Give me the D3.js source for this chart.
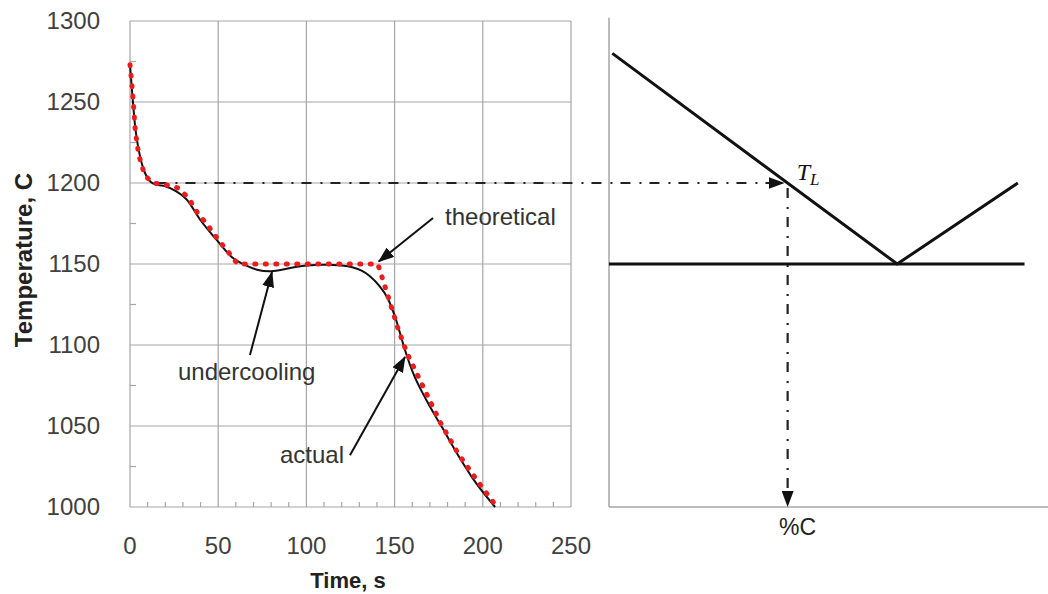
<!DOCTYPE html>
<html>
<head>
<meta charset="utf-8">
<script src="https://cdn.jsdelivr.net/npm/d3@7"></script>
<style>
  body { margin: 0; background: #fff; }
</style>
</head>
<body>
<div id="chart"></div>
<script>
var width = 1048;
var height = 594;

// tick labels
var timeTicks = [0, 50, 100, 150, 200, 250];
var tempTicks = [1000, 1050, 1100, 1150, 1200, 1250, 1300];

// actual cooling curve (black)
var actualTime = [0, 1.5, 3, 5, 7.5, 10, 12, 15, 20, 26, 32, 40, 49, 58, 66, 72, 79, 86, 93, 100, 110, 120, 126, 131, 136, 141, 146, 151, 155, 160, 168, 177, 186, 196, 207];
var actualTemp = [1273, 1252, 1234, 1220, 1209, 1203, 1200.5, 1199, 1198, 1195, 1190, 1177, 1165, 1154, 1149, 1146.5, 1145.5, 1146.5, 1148, 1149, 1149.5, 1149, 1148, 1146, 1142.5, 1137, 1129, 1115, 1100, 1084, 1066, 1049, 1032, 1015, 1000];

// theoretical cooling curve (red dots)
var theoTime = [0, 1, 2, 3, 5, 7.5, 10, 13, 20, 27, 33, 38, 44, 50, 56, 61, 80, 100, 120, 140.5, 144, 148, 152, 157, 165, 176, 186, 197, 208];
var theoTemp = [1273, 1262, 1248, 1232, 1217, 1208, 1203, 1200, 1199, 1197, 1191, 1182, 1174, 1165, 1157, 1150, 1150, 1150, 1150, 1150, 1138, 1124, 1110, 1095, 1077, 1052, 1033, 1016, 1000];

// phase diagram (right panel), composition in %C
var liquidusComp = [0.05, 4.3, 6.1];
var liquidusTemp = [1280, 1150, 1200];
var eutecticComp = [0, 6.2];
var eutecticTemp = [1150, 1150];
var liquidusT = 1200;   // T_L
var startTime = 15;     // where the dash-dot projection starts

// annotations: [label, textTime, textTemp, fromTime, fromTemp, tipTime, tipTemp]
var notes = [
  ["theoretical", 178.6, 1174, 171.8, 1178.4, 141, 1151.5],
  ["undercooling", 27.2, 1078.4, 68, 1093.8, 80.5, 1145],
  ["actual", 85, 1027.2, 124.7, 1032, 155.9, 1092.6]
];

var sans = "'Liberation Sans', Arial, sans-serif";

var x = d3.scaleLinear().domain([0, 250]).range([130, 571]);
var y = d3.scaleLinear().domain([1000, 1300]).range([507, 21]);
var xc = d3.scaleLinear().domain([0, 6.55]).range([609, 1048]);

var svg = d3.select("#chart")
  .append("svg")
  .attr("width", width)
  .attr("height", height)
  .attr("font-family", sans);

var defs = svg.append("defs");
defs.append("marker")
  .attr("id", "head")
  .attr("markerUnits", "userSpaceOnUse")
  .attr("viewBox", "0 0 16 12")
  .attr("refX", 15).attr("refY", 6)
  .attr("markerWidth", 16).attr("markerHeight", 12)
  .attr("orient", "auto")
  .append("path")
  .attr("d", "M0,0 L16,6 L0,12 Z")
  .attr("fill", "#111");

// grid
var grid = svg.append("g").attr("stroke", "#a6a6a6").attr("stroke-width", 1.2);
tempTicks.forEach(function (t) {
  grid.append("line")
    .attr("x1", x(0)).attr("x2", x(250))
    .attr("y1", y(t)).attr("y2", y(t));
});
timeTicks.forEach(function (t) {
  grid.append("line")
    .attr("x1", x(t)).attr("x2", x(t))
    .attr("y1", y(1000)).attr("y2", y(1300));
});
// minor ticks
d3.range(10, 250, 10).filter(function (t) { return t % 50 != 0; }).forEach(function (t) {
  grid.append("line")
    .attr("x1", x(t)).attr("x2", x(t))
    .attr("y1", y(1000)).attr("y2", y(1000) - 5);
});
d3.range(1025, 1300, 50).forEach(function (t) {
  grid.append("line")
    .attr("x1", x(0)).attr("x2", x(0) + 6)
    .attr("y1", y(t)).attr("y2", y(t));
});

// tick labels
svg.append("g").selectAll("text")
  .data(tempTicks).enter().append("text")
  .attr("x", 100)
  .attr("y", function (d) { return y(d) + 8; })
  .attr("text-anchor", "end")
  .attr("font-size", "24px")
  .attr("fill", "#404040")
  .text(function (d) { return d; });

svg.append("g").selectAll("text")
  .data(timeTicks).enter().append("text")
  .attr("x", function (d) { return x(d); })
  .attr("y", 554)
  .attr("text-anchor", "middle")
  .attr("font-size", "24px")
  .attr("fill", "#404040")
  .text(function (d) { return d; });

svg.append("text")
  .attr("x", 348).attr("y", 588)
  .attr("text-anchor", "middle")
  .attr("font-size", "22px")
  .attr("font-weight", "bold")
  .attr("fill", "#222")
  .text("Time, s");

svg.append("text")
  .attr("transform", "translate(32," + 260 + ") rotate(-90)")
  .attr("text-anchor", "middle")
  .attr("font-size", "24px")
  .attr("font-weight", "bold")
  .attr("fill", "#222")
  .text("Temperature, C");

// dash-dot projection line
var tlComp = liquidusComp[0] + (liquidusTemp[0] - liquidusT) / (liquidusTemp[0] - liquidusTemp[1]) * (liquidusComp[1] - liquidusComp[0]);
svg.append("line")
  .attr("x1", x(startTime)).attr("x2", xc(tlComp) - 4)
  .attr("y1", y(liquidusT)).attr("y2", y(liquidusT))
  .attr("stroke", "#222").attr("stroke-width", 2.2)
  .attr("stroke-dasharray", "10 9 2 8")
  .attr("marker-end", "url(#head)");

// curves
var line = d3.line()
  .x(function (d) { return x(d[0]); })
  .y(function (d) { return y(d[1]); });

svg.append("path")
  .datum(d3.zip(actualTime, actualTemp))
  .attr("fill", "none")
  .attr("stroke", "#111")
  .attr("stroke-width", 2)
  .attr("d", line.curve(d3.curveMonotoneX));

svg.append("path")
  .datum(d3.zip(theoTime, theoTemp))
  .attr("fill", "none")
  .attr("stroke", "#ec1c1c")
  .attr("stroke-width", 5)
  .attr("stroke-linecap", "round")
  .attr("stroke-dasharray", "1 9.5")
  .attr("d", line.curve(d3.curveLinear));

// annotations
notes.forEach(function (n) {
  svg.append("line")
    .attr("x1", x(n[3])).attr("y1", y(n[4]))
    .attr("x2", x(n[5])).attr("y2", y(n[6]))
    .attr("stroke", "#111").attr("stroke-width", 2)
    .attr("marker-end", "url(#head)");
  svg.append("text")
    .attr("x", x(n[1])).attr("y", y(n[2]))
    .attr("font-size", "24px")
    .attr("fill", "#333")
    .text(n[0]);
});

// right panel axes
var axes = svg.append("g").attr("stroke", "#a6a6a6").attr("stroke-width", 1.5);
axes.append("line")
  .attr("x1", xc(0)).attr("x2", xc(0))
  .attr("y1", y(1302)).attr("y2", y(1000));
axes.append("line")
  .attr("x1", xc(0)).attr("x2", xc(6.55))
  .attr("y1", y(1000)).attr("y2", y(1000));

var pline = d3.line()
  .x(function (d) { return xc(d[0]); })
  .y(function (d) { return y(d[1]); });

svg.append("path")
  .datum(d3.zip(liquidusComp, liquidusTemp))
  .attr("fill", "none").attr("stroke", "#111").attr("stroke-width", 3)
  .attr("d", pline);

svg.append("path")
  .datum(d3.zip(eutecticComp, eutecticTemp))
  .attr("fill", "none").attr("stroke", "#111").attr("stroke-width", 3)
  .attr("d", pline);

svg.append("line")
  .attr("x1", xc(tlComp)).attr("x2", xc(tlComp))
  .attr("y1", y(liquidusT) + 5).attr("y2", y(1000) - 1)
  .attr("stroke", "#222").attr("stroke-width", 2.2)
  .attr("stroke-dasharray", "10 9 2 8")
  .attr("marker-end", "url(#head)");

var tl = svg.append("text")
  .attr("x", xc(tlComp) + 9).attr("y", y(liquidusT) - 3)
  .attr("font-family", "'Liberation Serif', 'DejaVu Serif', serif")
  .attr("font-style", "italic")
  .attr("font-size", "24px")
  .attr("fill", "#111");
tl.append("tspan").text("T");
tl.append("tspan").attr("dy", 5).attr("font-size", "17px").text("L");

svg.append("text")
  .attr("x", xc(tlComp) + 10).attr("y", 535)
  .attr("text-anchor", "middle")
  .attr("font-size", "23px")
  .attr("fill", "#222")
  .text("%C");
</script>
</body>
</html>
